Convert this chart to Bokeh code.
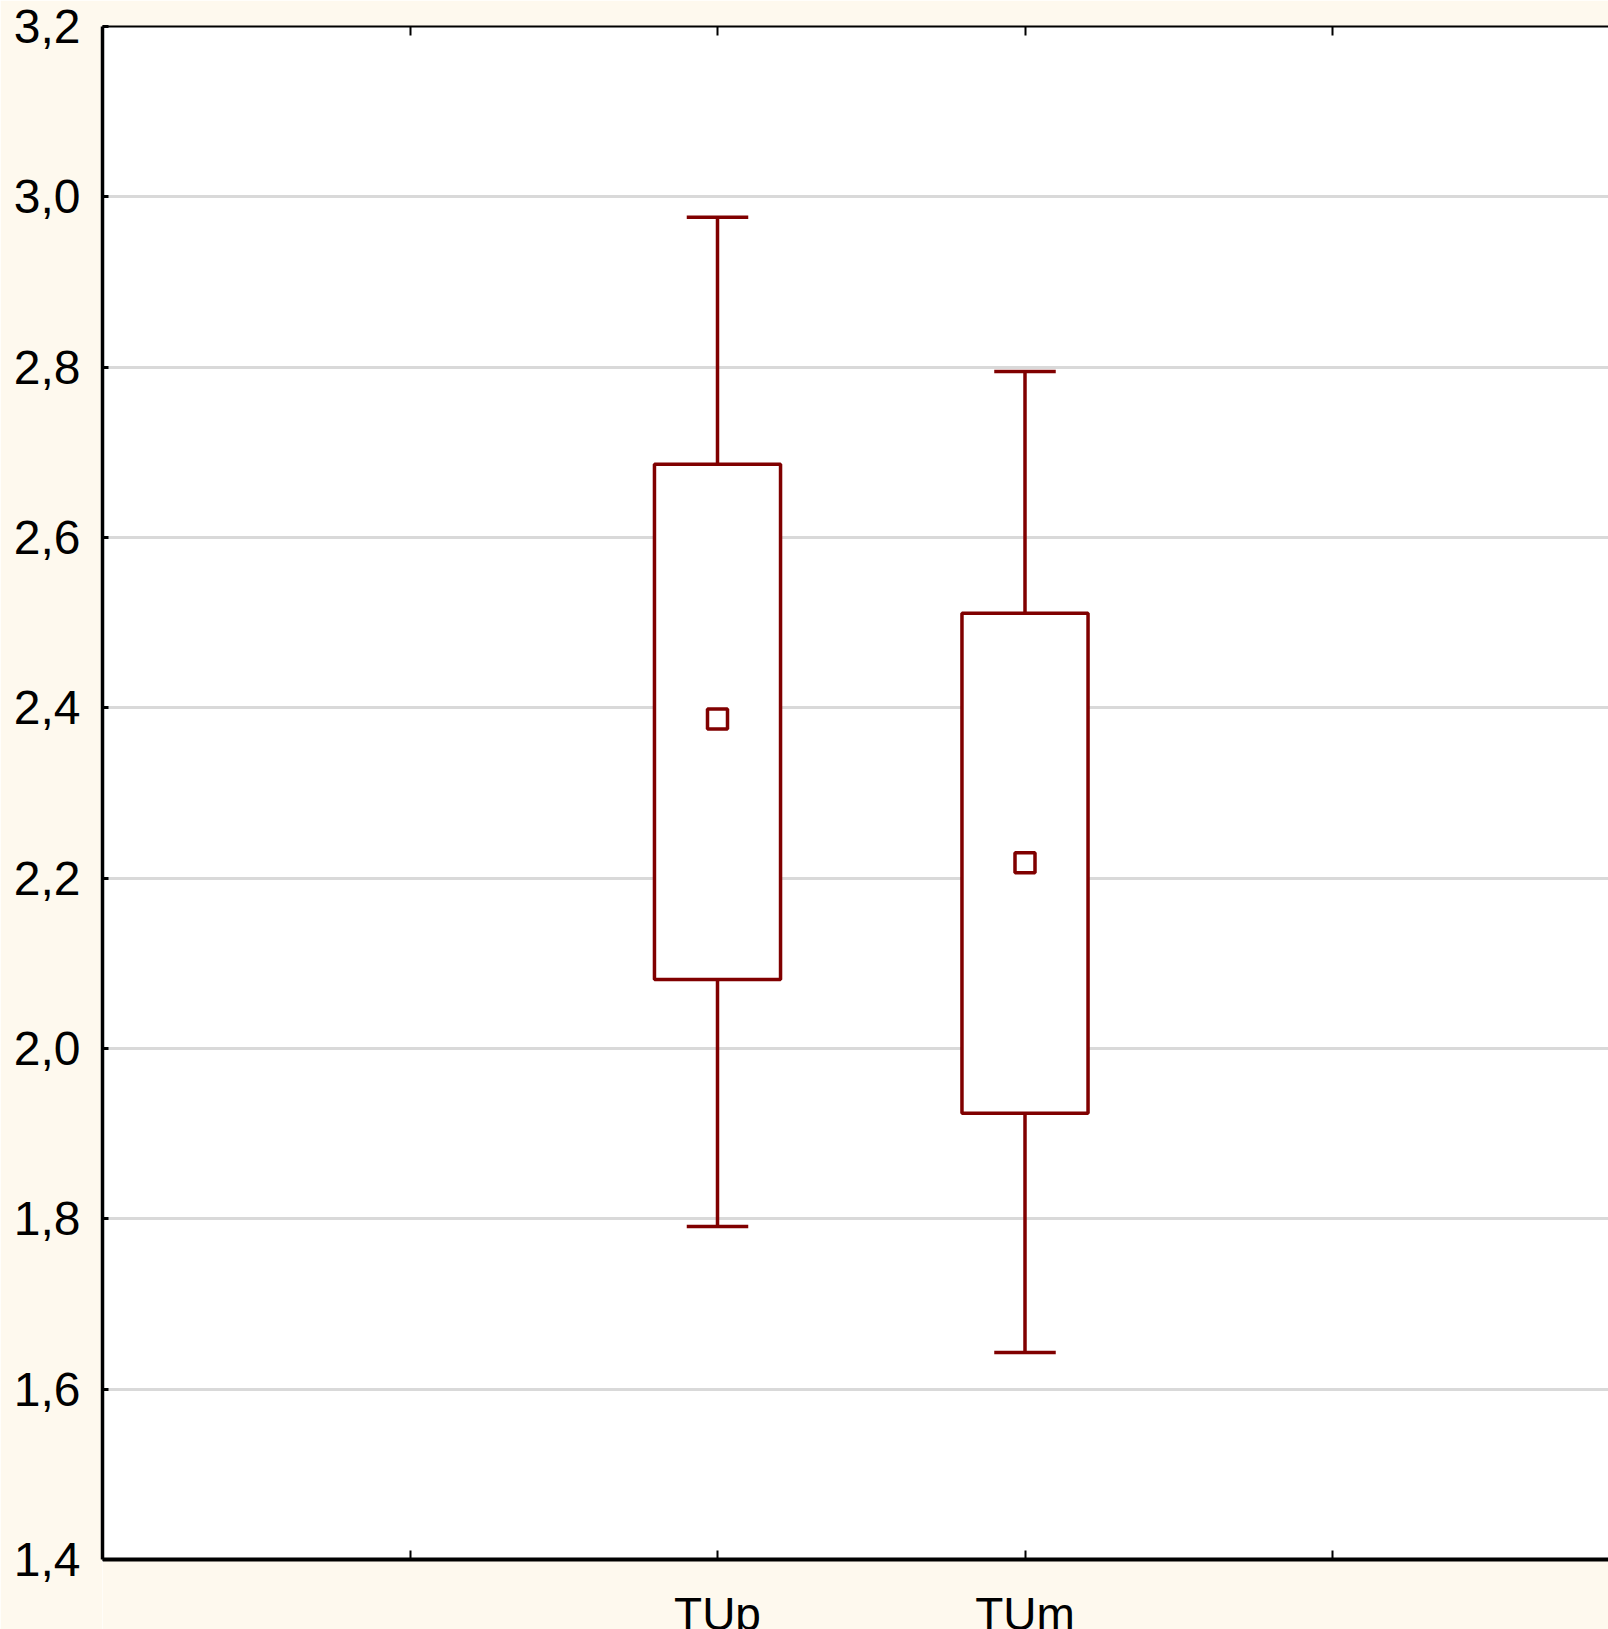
from bokeh.plotting import figure
from bokeh.models import (Range1d, FixedTicker, CustomJSTickFormatter, LinearAxis,
                          BoxAnnotation, ColumnDataSource)
from bokeh.core.properties import value
from bokeh.embed import file_html
from bokeh.resources import INLINE

# ---- data ----
categories = ["TUp", "TUm"]
means = [2.387, 2.218]
box_low = [2.081, 1.924]
box_high = [2.686, 2.511]
whisker_low = [1.791, 1.643]
whisker_high = [2.976, 2.795]
y_ticks = [1.4, 1.6, 1.8, 2.0, 2.2, 2.4, 2.6, 2.8, 3.0, 3.2]
x_ticks = [1, 2, 3, 4]

RED = "#800000"
BG = "#FEF9EE"
FONT = "Liberation Sans"
LW = 3.5

W, H = 1608, 1629
LEFT, TOP = 102, 26
PX_PER_UNIT = 851.67          # vertical scale of the reference
PX_PER_CAT = 307.5            # horizontal scale of the reference
Y_MIN, Y_MAX = 1.4, 3.2
y_lo = Y_MAX - (H - TOP) / PX_PER_UNIT   # frame extends below the axis (clipped labels)
x_hi = (W - LEFT) / PX_PER_CAT

x_pos = [i + 2 for i in range(len(categories))]
BOX_HALF = 0.205
CAP_HALF = 0.1

src = ColumnDataSource(dict(
    x=x_pos,
    left=[x - BOX_HALF for x in x_pos],
    right=[x + BOX_HALF for x in x_pos],
    cap_l=[x - CAP_HALF for x in x_pos],
    cap_r=[x + CAP_HALF for x in x_pos],
    mean=means, lo=box_low, hi=box_high, wlo=whisker_low, whi=whisker_high,
))

p = figure(width=W, height=H,
           x_range=Range1d(0, x_hi), y_range=Range1d(y_lo, Y_MAX),
           output_backend="svg", toolbar_location=None,
           min_border_left=LEFT, min_border_top=TOP, min_border_right=0,
           min_border_bottom=0)
p.background_fill_color = "white"
p.border_fill_color = BG
p.outline_line_color = None

# cream area below the value axis
p.add_layout(BoxAnnotation(top=Y_MIN, fill_color=BG, fill_alpha=1.0,
                           line_color=None, level="underlay"))

# y axis
ya = p.yaxis[0]
ya.ticker = FixedTicker(ticks=y_ticks)
ya.bounds = (Y_MIN, Y_MAX)
ya.formatter = CustomJSTickFormatter(code="return tick.toFixed(1).replace('.', ',');")
ya.axis_line_width = 3.5
ya.axis_line_color = "black"
ya.major_tick_in = 6
ya.major_tick_out = 0
ya.major_tick_line_width = 3
ya.minor_tick_line_color = None
ya.major_label_standoff = 22
ya.major_label_text_font = FONT
ya.major_label_text_font_size = "48px"
ya.major_label_text_color = "black"

# bottom axis, drawn at y = 1.4
xa = p.xaxis[0]
xa.fixed_location = Y_MIN
xa.ticker = FixedTicker(ticks=x_ticks)
xa.formatter = CustomJSTickFormatter(code="return '';")
xa.axis_line_width = 4
xa.axis_line_color = "black"
xa.major_tick_in = 9
xa.major_tick_out = 0
xa.major_tick_line_width = 2
xa.minor_tick_line_color = None
xa.major_label_standoff = 0
xa.major_label_text_font_size = "0px"

# top border axis
ta = LinearAxis(ticker=FixedTicker(ticks=x_ticks),
                formatter=CustomJSTickFormatter(code="return '';"))
ta.axis_line_width = 2
ta.axis_line_color = "black"
ta.major_tick_in = 9
ta.major_tick_out = 0
ta.major_tick_line_width = 2
ta.minor_tick_line_color = None
ta.major_label_standoff = 0
ta.major_label_text_font_size = "0px"
p.add_layout(ta, "above")

# grid
p.xgrid.visible = False
p.ygrid.ticker = FixedTicker(ticks=y_ticks[1:-1])
p.ygrid.grid_line_color = "#d9d9d9"
p.ygrid.grid_line_width = 3

# whiskers
p.segment(x0="x", y0="hi", x1="x", y1="whi", source=src, line_color=RED, line_width=LW)
p.segment(x0="x", y0="lo", x1="x", y1="wlo", source=src, line_color=RED, line_width=LW)
p.segment(x0="cap_l", y0="whi", x1="cap_r", y1="whi", source=src, line_color=RED, line_width=LW)
p.segment(x0="cap_l", y0="wlo", x1="cap_r", y1="wlo", source=src, line_color=RED, line_width=LW)

# boxes
p.quad(left="left", right="right", bottom="lo", top="hi", source=src,
       fill_color="white", line_color=RED, line_width=LW)

# means
p.scatter(x="x", y="mean", source=src, marker="square", size=20,
          fill_color="white", line_color=RED, line_width=LW)

# category labels under the axis (cut by the bottom edge, as in the reference)
lab = ColumnDataSource(dict(x=x_pos, y=[Y_MIN - 54 / PX_PER_UNIT] * len(x_pos),
                            t=categories))
p.text(x="x", y="y", text="t", source=lab, text_align="center",
       text_baseline="alphabetic", text_font=value(FONT),
       text_font_size="46px", text_color="black")

html = file_html(p, INLINE)
html = html.replace("<body>", '<body style="background:%s">' % BG, 1)
open("out.html", "w").write(html)
